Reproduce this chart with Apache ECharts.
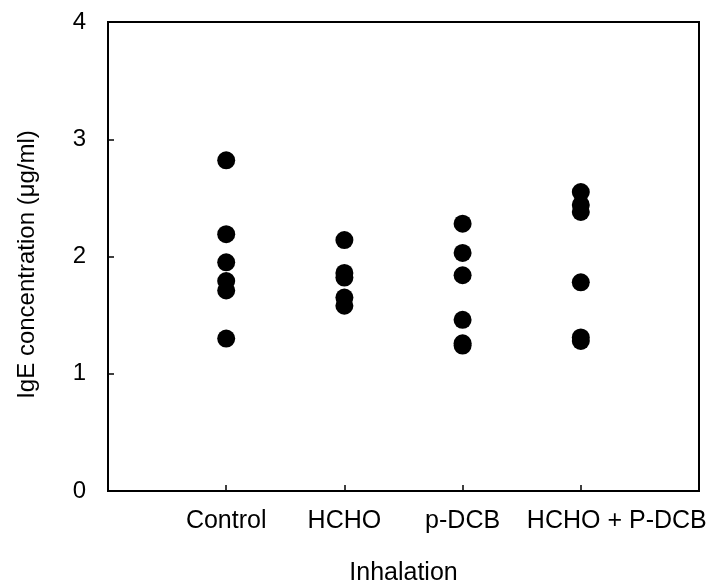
<!DOCTYPE html>
<html>
<head>
<meta charset="utf-8">
<script src="https://cdn.jsdelivr.net/npm/echarts@6/dist/echarts.min.js"></script>
<style>
  html, body { margin: 0; padding: 0; background: #fff; }
  #chart { width: 718px; height: 587px; }
</style>
</head>
<body>
<div id="chart"></div>
<script>
// Inhalation groups, padded with blank slots at both ends of the axis
const categories = ['', 'Control', 'HCHO', 'p-DCB', 'HCHO + P-DCB', ''];

// Serum IgE concentration (µg/ml) of individual animals per group
const controlValues = [2.82, 2.19, 1.95, 1.79, 1.71, 1.30];
const hchoValues = [2.14, 1.86, 1.82, 1.65, 1.58];
const pdcbValues = [2.28, 2.03, 1.84, 1.46, 1.26, 1.24];
const comboValues = [2.55, 2.44, 2.38, 1.78, 1.31, 1.28];

const yTicks = [0, 1, 2, 3, 4];

const groups = [
  ['Control', controlValues],
  ['HCHO', hchoValues],
  ['p-DCB', pdcbValues],
  ['HCHO + P-DCB', comboValues]
];

const points = [];
groups.forEach(([name, vals]) => {
  vals.forEach(v => points.push([name, v]));
});

const font = '"Liberation Sans", Arial, Helvetica, sans-serif';

const xData = categories.map(c => {
  if (c === 'HCHO + P-DCB') {
    return { value: c, textStyle: { padding: [0, 0, 0, 72] } };
  }
  return c;
});

const chart = echarts.init(document.getElementById('chart'), null, { renderer: 'canvas' });
chart.setOption({
  backgroundColor: '#fff',
  animation: false,
  grid: {
    left: 108, right: 19, top: 22, bottom: 96,
    outerBoundsMode: 'none',
    containLabel: false,
    show: true, borderColor: '#000', borderWidth: 2, backgroundColor: 'transparent'
  },
  xAxis: {
    type: 'category',
    data: xData,
    boundaryGap: false,
    name: 'Inhalation',
    nameLocation: 'middle',
    nameGap: 70,
    nameTextStyle: { color: '#000', fontFamily: font, fontSize: 25 },
    axisLine: { lineStyle: { color: '#000', width: 2 } },
    axisTick: { inside: true, length: 6, lineStyle: { color: '#000', width: 1.5 } },
    axisLabel: { color: '#000', fontFamily: font, fontSize: 25, margin: 18, interval: 0 },
    splitLine: { show: false }
  },
  yAxis: {
    type: 'value',
    min: 0, max: 4, interval: 1,
    name: 'IgE concentration (\u03bcg/ml)',
    nameLocation: 'middle',
    nameGap: 69,
    nameRotate: 90,
    nameTextStyle: { color: '#000', fontFamily: font, fontSize: 24, padding: [0, 16, 0, 0] },
    axisLine: { show: true, lineStyle: { color: '#000', width: 2 } },
    axisTick: { show: true, inside: true, length: 6, lineStyle: { color: '#000', width: 1.5 } },
    axisLabel: {
      color: '#000', fontFamily: font, fontSize: 24, margin: 22,
      formatter: v => (yTicks.includes(v) ? String(v) : '')
    },
    splitLine: { show: false }
  },
  series: [{
    type: 'scatter',
    data: points,
    symbol: 'circle',
    symbolSize: 18,
    itemStyle: { color: '#000', opacity: 1 }
  }]
});
</script>
</body>
</html>
